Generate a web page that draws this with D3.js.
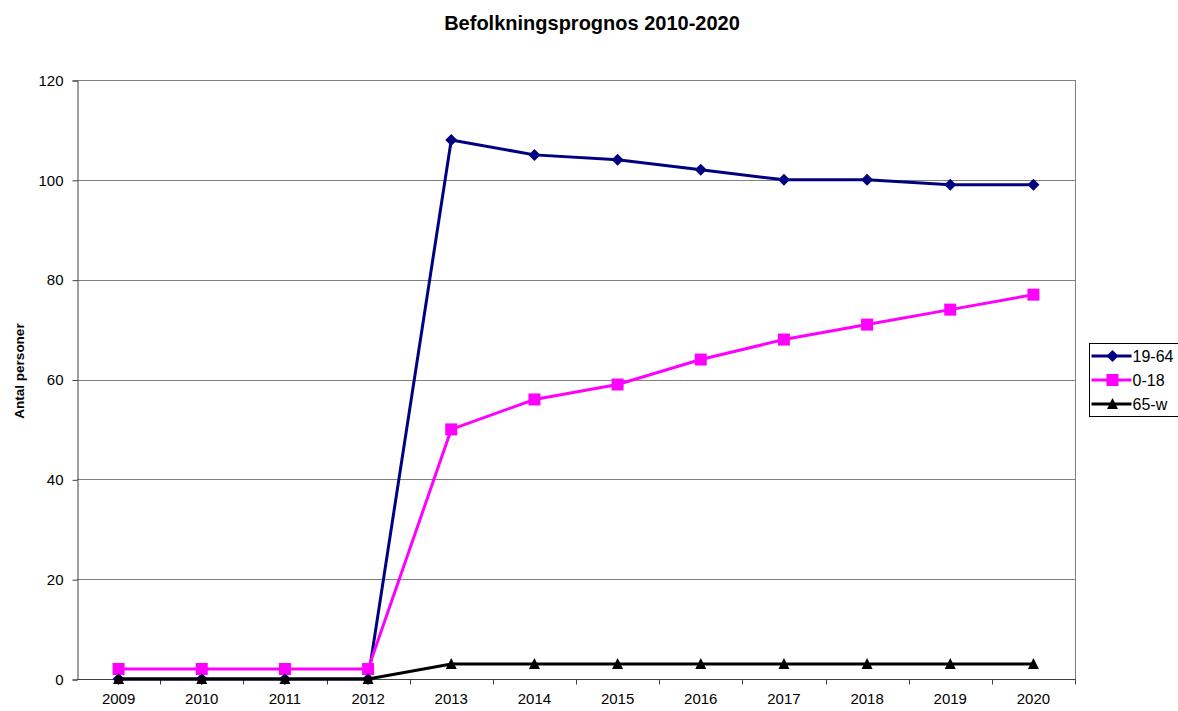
<!DOCTYPE html>
<html>
<head>
    <meta charset="utf-8">
    <title>Befolkningsprognos 2010-2020</title>
    <script src="https://d3js.org/d3.v7.min.js"></script>
    <style>
        body { margin: 0; background: #fff; }
        svg { font-family: "Liberation Sans", Arial, sans-serif; }
    </style>
</head>
<body>
<script>
// data
const years = ["2009", "2010", "2011", "2012", "2013", "2014", "2015", "2016", "2017", "2018", "2019", "2020"];
const adults = [0, 0, 0, 0, 108, 105, 104, 102, 100, 100, 99, 99];   // 19-64
const children = [2, 2, 2, 2, 50, 56, 59, 64, 68, 71, 74, 77];      // 0-18
const elderly = [0, 0, 0, 0, 3, 3, 3, 3, 3, 3, 3, 3];               // 65-w
const yTicks = [0, 20, 40, 60, 80, 100, 120];

const series = [
    {name: "19-64", values: adults, color: "#000080", shape: "diamond"},
    {name: "0-18", values: children, color: "#ff00ff", shape: "square"},
    {name: "65-w", values: elderly, color: "#000000", shape: "triangle"}
];

const width = 1178, height = 711;
const margin = {top: 80, right: 103, bottom: 32, left: 77};

const svg = d3.select("body").append("svg")
    .attr("width", width)
    .attr("height", height);

const x = d3.scaleBand()
    .domain(years)
    .range([margin.left, width - margin.right]);

const y = d3.scaleLinear()
    .domain([0, 120])
    .range([height - margin.bottom, margin.top]);

// title
svg.append("text")
    .attr("x", 592)
    .attr("y", 30)
    .attr("text-anchor", "middle")
    .style("font-size", "20px")
    .style("font-weight", "bold")
    .text("Befolkningsprognos 2010-2020");

// y label
svg.append("text")
    .attr("transform", "translate(24,371) rotate(-90)")
    .attr("text-anchor", "middle")
    .style("font-size", "13.5px")
    .style("font-weight", "bold")
    .text("Antal personer");

// gridlines
svg.append("g")
    .selectAll("line")
    .data(yTicks.filter(d => d > 0))
    .join("line")
    .attr("x1", margin.left)
    .attr("x2", width - margin.right)
    .attr("y1", d => Math.round(y(d)) + 0.5)
    .attr("y2", d => Math.round(y(d)) + 0.5)
    .attr("stroke", "#808080")
    .attr("stroke-width", 1);

// right border of the plot area
svg.append("line")
    .attr("x1", width - margin.right + 0.5)
    .attr("x2", width - margin.right + 0.5)
    .attr("y1", margin.top)
    .attr("y2", height - margin.bottom)
    .attr("stroke", "#808080");

// y axis
const yAxis = svg.append("g")
    .attr("transform", `translate(${margin.left + 0.5},0.5)`)
    .call(d3.axisLeft(y).tickValues(yTicks).tickSize(5).tickPadding(9));
yAxis.selectAll("text").style("font-size", "15px").attr("fill", "#000");
yAxis.select(".domain").attr("stroke", "#404040");
yAxis.selectAll(".tick line").attr("stroke", "#404040");

// x axis: ticks sit between categories
const xAxis = svg.append("g")
    .attr("transform", `translate(0,${height - margin.bottom + 0.5})`);
xAxis.append("line")
    .attr("x1", margin.left)
    .attr("x2", width - margin.right + 1)
    .attr("stroke", "#404040");
xAxis.selectAll("line.tk")
    .data(years.slice(1).concat(["end"]))
    .join("line")
    .attr("class", "tk")
    .attr("x1", (d, i) => Math.round(margin.left + (i + 1) * x.step()) + 0.5)
    .attr("x2", (d, i) => Math.round(margin.left + (i + 1) * x.step()) + 0.5)
    .attr("y1", 0)
    .attr("y2", 5)
    .attr("stroke", "#404040");
xAxis.selectAll("text")
    .data(years)
    .join("text")
    .attr("x", d => x(d) + x.bandwidth() / 2)
    .attr("y", 24)
    .attr("text-anchor", "middle")
    .style("font-size", "15px")
    .text(d => d);

const cx = d => x(d) + x.bandwidth() / 2;

function marker(g, shape, color) {
    if (shape === "diamond") {
        g.append("path").attr("d", "M0,-6L6,0L0,6L-6,0Z").attr("fill", color);
    } else if (shape === "square") {
        g.append("rect").attr("x", -6).attr("y", -6).attr("width", 12).attr("height", 12).attr("fill", color);
    } else {
        g.append("path").attr("d", "M0,-6L5.5,5L-5.5,5Z").attr("fill", color);
    }
}

const line = d3.line()
    .x((d, i) => cx(years[i]))
    .y(d => y(d));

series.forEach(s => {
    svg.append("path")
        .datum(s.values)
        .attr("fill", "none")
        .attr("stroke", s.color)
        .attr("stroke-width", 3)
        .attr("d", line);
    s.values.forEach((v, i) => {
        const g = svg.append("g").attr("transform", `translate(${cx(years[i])},${y(v)})`);
        marker(g, s.shape, s.color);
    });
});

// legend
const lg = svg.append("g").attr("transform", "translate(1089.5,343.5)");
lg.append("rect")
    .attr("width", 95)
    .attr("height", 73)
    .attr("fill", "#fff")
    .attr("stroke", "#000");
series.forEach((s, i) => {
    const row = lg.append("g").attr("transform", `translate(0,${12.5 + i * 24})`);
    row.append("line")
        .attr("x1", 2).attr("x2", 42)
        .attr("stroke", s.color)
        .attr("stroke-width", 3);
    marker(row.append("g").attr("transform", "translate(23,0)"), s.shape, s.color);
    row.append("text")
        .attr("x", 43)
        .attr("y", 6)
        .style("font-size", "16px")
        .text(s.name);
});
</script>
</body>
</html>
